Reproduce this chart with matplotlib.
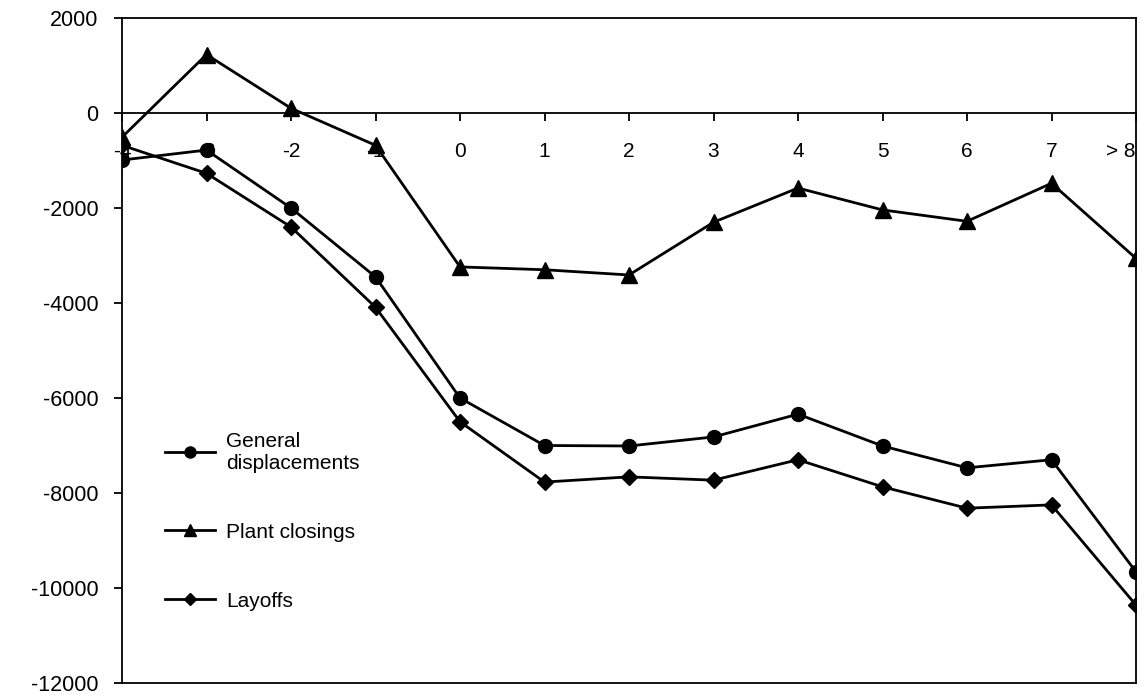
import numpy as np
import matplotlib.pyplot as plt

# categories (years relative to event)
categories = ["-4", "-3", "-2", "-1", "0", "1", "2", "3", "4", "5", "6", "7", "> 8"]
general = [-990, -780, -2000, -3450, -6000, -7000, -7010, -6820, -6340, -7010, -7470, -7300, -9660]
plant = [-510, 1230, 100, -680, -3240, -3300, -3410, -2300, -1580, -2040, -2280, -1480, -3060]
layoffs = [-680, -1270, -2400, -4090, -6500, -7770, -7660, -7730, -7300, -7870, -8320, -8250, -10360]
yticks = [2000, 0, -2000, -4000, -6000, -8000, -10000, -12000]

plt.rcParams['font.family'] = ['Liberation Sans', 'DejaVu Sans']

fig = plt.figure(figsize=(11.48, 6.96), dpi=100)
ax = fig.add_axes([122 / 1148, 1 - 683 / 696, (1136 - 122) / 1148, (683 - 18) / 696])
ax.set_axisbelow(True)

x = np.arange(len(categories))
ax.plot(x, general, color="black", lw=2, marker="o", ms=10, label="General\ndisplacements", zorder=3)
ax.plot(x, plant, color="black", lw=2, marker="^", ms=11, label="Plant closings", zorder=3)
ax.plot(x, layoffs, color="black", lw=2, marker="D", ms=8, label="Layoffs", zorder=3)

# x axis sits on the zero line, box closed with a line at the bottom
ax.spines['bottom'].set_position(('data', 0))
ax.plot([0, 1], [0, 0], transform=ax.transAxes, color="black", lw=1.3, clip_on=False, zorder=4)
for s in ax.spines.values():
    s.set_linewidth(1.3)

ax.set_xlim(0, len(categories) - 1)
ax.set_ylim(-12000, 2000)
ax.set_yticks(yticks)
ax.set_yticklabels([str(v) for v in yticks])
ax.set_xticks(x)
ax.set_xticklabels(categories)
ax.tick_params(axis='x', direction='out', length=6, width=1.3, pad=15, labelsize=15)
ax.tick_params(axis='y', direction='out', length=6, width=1.3, pad=11, labelsize=15.5)
ax.get_xticklabels()[-1].set_horizontalalignment('right')
ax.get_xticklabels()[-1].set_x(len(categories) - 1 + 0.12)

leg = ax.legend(loc="upper left", bbox_to_anchor=(0.042, 0.378), frameon=False, fontsize=15,
                handlelength=2.4, handletextpad=0.55, labelspacing=2.4, markerscale=0.8,
                borderpad=0, borderaxespad=0)

fig.savefig("out.png", dpi=100)
